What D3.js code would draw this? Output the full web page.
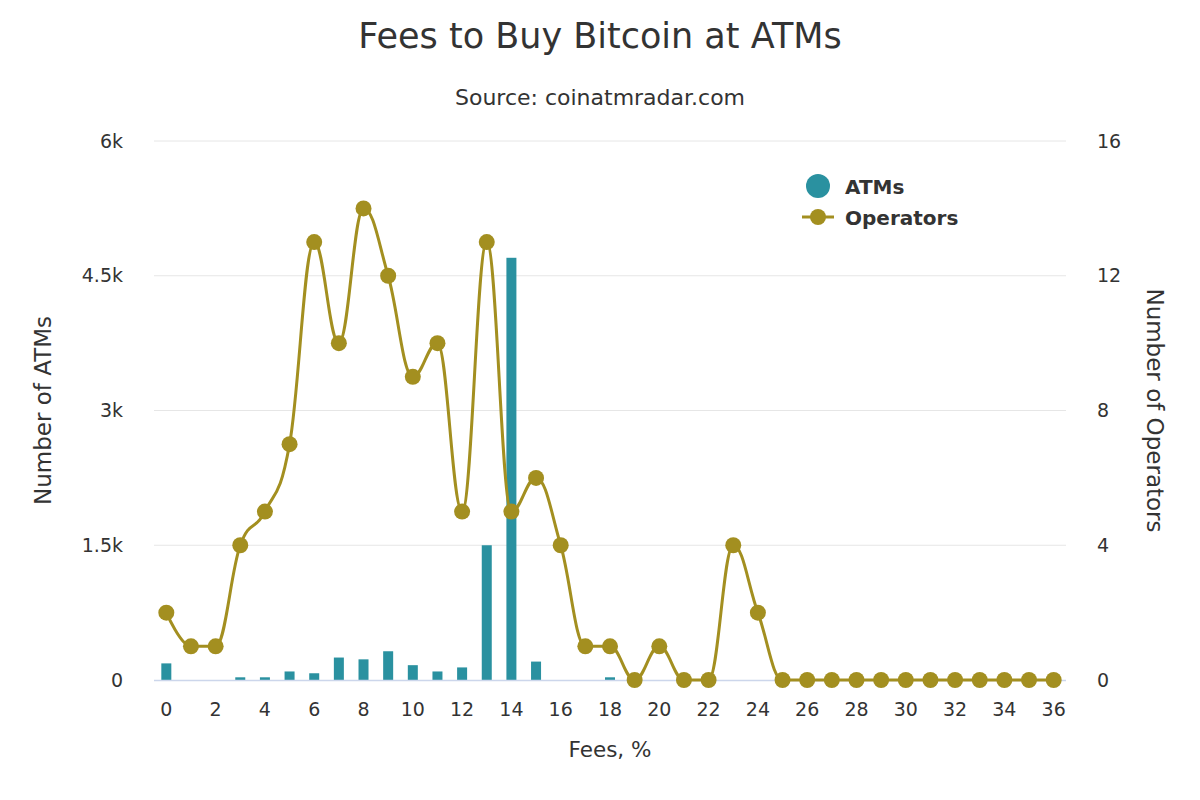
<!DOCTYPE html>
<html>
<head>
<meta charset="utf-8">
<script src="https://cdn.jsdelivr.net/npm/d3@7"></script>
<style>
  html, body { margin: 0; padding: 0; background: #fff; }
  svg { display: block; font-family: "DejaVu Sans", sans-serif; }
</style>
</head>
<body>
<svg id="chart" width="1200" height="800"></svg>
<script>
// ---- data ----
const fees = d3.range(0, 37); // categories 0..36 (%)
const atms = [185, 0, 0, 30, 30, 95, 75, 250, 230, 320, 165, 95, 140, 1500, 4700, 205, 0, 0, 30, 0, 0, 0, 0, 0, 0, 0, 0, 0, 0, 0, 0, 0, 0, 0, 0, 0, 0];
const operators = [2, 1, 1, 4, 5, 7, 13, 10, 14, 12, 9, 10, 5, 13, 5, 6, 4, 1, 1, 0, 1, 0, 0, 4, 2, 0, 0, 0, 0, 0, 0, 0, 0, 0, 0, 0, 0];
const leftTicks = [0, 1500, 3000, 4500, 6000];
const leftTickLabels = ["0", "1.5k", "3k", "4.5k", "6k"];
const rightTicks = [0, 4, 8, 12, 16];
const xTickLabels = d3.range(0, 37, 2);

const colBar = "#2a91a0";
const colLine = "#a38f20";
const FONT = "DejaVu Sans, sans-serif";

const svg = d3.select("#chart");
const L = 154, R = 1066, T = 141, B = 680;

const x = d3.scaleBand().domain(fees).range([L, R]).padding(0);
const cx = d => x(d) + x.bandwidth() / 2;
const yL = d3.scaleLinear().domain([0, 6000]).range([B, T]);
const yR = d3.scaleLinear().domain([0, 16]).range([B, T]);

// title
svg.append("text").attr("x", 600).attr("y", 48).attr("text-anchor", "middle")
  .attr("font-size", 35).attr("fill", "#333").text("Fees to Buy Bitcoin at ATMs");
svg.append("text").attr("x", 600).attr("y", 105).attr("text-anchor", "middle")
  .attr("font-size", 22).attr("fill", "#333").text("Source: coinatmradar.com");

// gridlines
svg.append("g").selectAll("line").data(leftTicks.filter(d => d > 0)).join("line")
  .attr("x1", L).attr("x2", R).attr("y1", d => yL(d)).attr("y2", d => yL(d))
  .attr("stroke", "#e6e6e6").attr("stroke-width", 1);

// left axis
const gL = svg.append("g").attr("transform", `translate(${L},0)`)
  .call(d3.axisLeft(yL).tickValues(leftTicks).tickFormat((d, i) => leftTickLabels[i]).tickSize(0).tickPadding(31));
gL.select(".domain").remove();
gL.selectAll("text").attr("font-size", 19).attr("fill", "#333").attr("font-family", FONT);

// right axis
const gR = svg.append("g").attr("transform", `translate(${R},0)`)
  .call(d3.axisRight(yR).tickValues(rightTicks).tickSize(0).tickPadding(31));
gR.select(".domain").remove();
gR.selectAll("text").attr("font-size", 19).attr("fill", "#333").attr("font-family", FONT);

// x axis
const gX = svg.append("g").attr("transform", `translate(0,${B})`)
  .call(d3.axisBottom(x).tickValues(xTickLabels).tickSize(0).tickPadding(23));
gX.select(".domain").remove();
gX.selectAll("text").attr("font-size", 19).attr("fill", "#333").attr("font-family", FONT);

// axis titles
svg.append("text").attr("transform", `translate(51,${(T + B) / 2}) rotate(-90)`)
  .attr("text-anchor", "middle").attr("font-size", 23).attr("fill", "#333").text("Number of ATMs");
svg.append("text").attr("transform", `translate(1147,${(T + B) / 2}) rotate(90)`)
  .attr("text-anchor", "middle").attr("font-size", 23).attr("fill", "#333").text("Number of Operators");
svg.append("text").attr("x", (L + R) / 2).attr("y", 757).attr("text-anchor", "middle")
  .attr("font-size", 21.5).attr("fill", "#333").text("Fees, %");

// bars
const bw = 10;
svg.append("g").selectAll("rect").data(fees).join("rect")
  .attr("x", d => cx(d) - bw / 2).attr("width", bw)
  .attr("y", (d, i) => yL(atms[i])).attr("height", (d, i) => B - yL(atms[i]))
  .attr("fill", colBar);

// baseline
svg.append("line").attr("x1", L).attr("x2", R).attr("y1", B + 0.5).attr("y2", B + 0.5)
  .attr("stroke", "#ccd6eb").attr("stroke-width", 1.5);

// Highcharts-like spline
function splinePath(pts) {
  const sm = 1.5, den = sm + 1;
  let d = "";
  let prevRight = null;
  pts.forEach((p, i) => {
    let lcx = null, lcy = null, rcx = null, rcy = null;
    if (i > 0 && i < pts.length - 1) {
      const a = pts[i - 1], n = pts[i + 1];
      lcx = (sm * p[0] + a[0]) / den; lcy = (sm * p[1] + a[1]) / den;
      rcx = (sm * p[0] + n[0]) / den; rcy = (sm * p[1] + n[1]) / den;
      if (rcx !== lcx) {
        const corr = ((rcy - lcy) * (rcx - p[0])) / (rcx - lcx) + p[1] - rcy;
        lcy += corr; rcy += corr;
        if (lcy > a[1] && lcy > p[1]) { lcy = Math.max(a[1], p[1]); rcy = 2 * p[1] - lcy; }
        else if (lcy < a[1] && lcy < p[1]) { lcy = Math.min(a[1], p[1]); rcy = 2 * p[1] - lcy; }
        if (rcy > n[1] && rcy > p[1]) { rcy = Math.max(n[1], p[1]); lcy = 2 * p[1] - rcy; }
        else if (rcy < n[1] && rcy < p[1]) { rcy = Math.min(n[1], p[1]); lcy = 2 * p[1] - rcy; }
      }
    }
    if (i === 0) d += `M${p[0]},${p[1]}`;
    else {
      const a = pts[i - 1];
      const c1 = prevRight || a;
      const c2 = lcx !== null ? [lcx, lcy] : p;
      d += `C${c1[0]},${c1[1]},${c2[0]},${c2[1]},${p[0]},${p[1]}`;
    }
    prevRight = rcx !== null ? [rcx, rcy] : null;
  });
  return d;
}
const linePts = fees.map((f, i) => [cx(f), yR(operators[i])]);
svg.append("path").attr("d", splinePath(linePts)).attr("fill", "none")
  .attr("stroke", colLine).attr("stroke-width", 3);
svg.append("g").selectAll("circle").data(fees).join("circle")
  .attr("cx", d => cx(d)).attr("cy", (d, i) => yR(operators[i])).attr("r", 8)
  .attr("fill", colLine);

// legend
const lg = svg.append("g");
lg.append("circle").attr("cx", 818).attr("cy", 186).attr("r", 12).attr("fill", colBar);
lg.append("text").attr("x", 845).attr("y", 194).attr("font-size", 20).attr("font-weight", "bold")
  .attr("fill", "#333").text("ATMs");
lg.append("line").attr("x1", 802).attr("x2", 834).attr("y1", 217).attr("y2", 217)
  .attr("stroke", colLine).attr("stroke-width", 3);
lg.append("circle").attr("cx", 818).attr("cy", 217).attr("r", 8).attr("fill", colLine);
lg.append("text").attr("x", 845).attr("y", 225).attr("font-size", 20).attr("font-weight", "bold")
  .attr("fill", "#333").text("Operators");
</script>
</body>
</html>
